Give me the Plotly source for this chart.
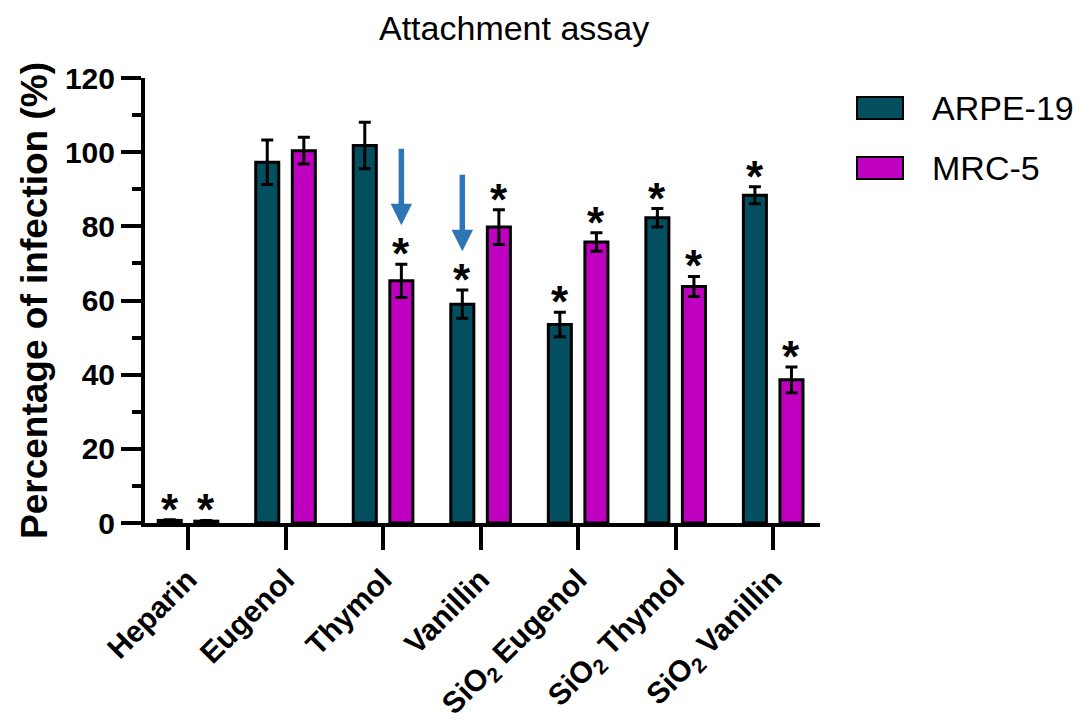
import plotly.graph_objects as go

# ---------------- data ----------------
categories = ["Heparin", "Eugenol", "Thymol", "Vanillin",
              "SiO<sub>2</sub> Eugenol", "SiO<sub>2</sub> Thymol", "SiO<sub>2</sub> Vanillin"]
series_names = ["ARPE-19", "MRC-5"]
arpe_values = [0.7, 97.3, 101.8, 59.0, 53.5, 82.3, 88.4]
arpe_errors = [0.2, 6.0, 6.3, 3.8, 3.3, 2.5, 2.3]
mrc_values = [0.5, 100.4, 65.3, 79.8, 75.8, 63.8, 38.6]
mrc_errors = [0.2, 3.6, 4.5, 4.7, 2.5, 2.7, 3.5]
# significance asterisks (True = marked)
arpe_sig = [True, False, False, True, True, True, True]
mrc_sig = [True, False, True, True, True, True, True]
# blue arrows: (category index, series index)
arrow_marks = [(2, 1), (3, 0)]

y_ticks = [0, 20, 40, 60, 80, 100, 120]

# ---------------- style ----------------
col_arpe = "#034F60"
col_mrc = "#C000C0"
arrow_col = "#2E75B6"
FONT = "Liberation Sans, Arial, Helvetica, sans-serif"

# the page body adds an 8px offset; size the figure so it fits the window
OFF = 8
W, H = 1086 - OFF, 724 - OFF
# plot area in window pixels, converted to figure pixels
L, R, T, B = 145 - OFF, 820 - OFF, 78 - OFF, 523 - OFF

BARGAP = 0.25
BARGROUPGAP = 0.37
slot = (1 - BARGAP) / 2
offsets = [-slot / 2, slot / 2]

x_idx = list(range(len(categories)))

fig = go.Figure()
for name, vals, errs, col in [(series_names[0], arpe_values, arpe_errors, col_arpe),
                              (series_names[1], mrc_values, mrc_errors, col_mrc)]:
    fig.add_trace(go.Bar(
        x=x_idx, y=vals, name=name,
        marker=dict(color=col, line=dict(color="black", width=3)),
        error_y=dict(type="data", array=errs, visible=True,
                     color="black", thickness=3, width=6),
        showlegend=False,
    ))

annotations = []
# asterisks
for s, (vals, errs, sig) in enumerate([(arpe_values, arpe_errors, arpe_sig),
                                       (mrc_values, mrc_errors, mrc_sig)]):
    for i, (v, e, g) in enumerate(zip(vals, errs, sig)):
        if g:
            annotations.append(dict(
                x=i + offsets[s], y=v + e, xref="x", yref="y",
                text="<b>*</b>", showarrow=False, yanchor="bottom", xanchor="center",
                yshift=-16, font=dict(family=FONT, size=44, color="black")))

# arrows
all_vals = [arpe_values, mrc_values]
all_errs = [arpe_errors, mrc_errors]
for (ci, si) in arrow_marks:
    tip = all_vals[si][ci] + all_errs[si][ci] + 10.5
    annotations.append(dict(
        x=ci + offsets[si], y=tip, xref="x", yref="y",
        ax=ci + offsets[si], ay=tip + 21, axref="x", ayref="y",
        text="", showarrow=True, arrowhead=2, arrowsize=0.78,
        arrowwidth=5.5, arrowcolor=arrow_col, standoff=0))

# manual legend (window pixel positions)
def px2paper_x(px):
    return (px - OFF - L) / (R - L)

def px2paper_y(py):
    return (B - (py - OFF)) / (B - T)

shapes = []
legend_rows = [(series_names[0], col_arpe, 97, 119),
               (series_names[1], col_mrc, 157, 179)]
for name, col, y0, y1 in legend_rows:
    shapes.append(dict(type="rect", xref="paper", yref="paper",
                       x0=px2paper_x(857), x1=px2paper_x(903),
                       y0=px2paper_y(y1), y1=px2paper_y(y0),
                       fillcolor=col, line=dict(color="black", width=2)))
    annotations.append(dict(
        x=px2paper_x(930), y=px2paper_y((y0 + y1) / 2), xref="paper", yref="paper",
        text=name, showarrow=False, xanchor="left", yanchor="middle",
        font=dict(family=FONT, size=34, color="black")))

# title
annotations.append(dict(
    x=px2paper_x(514), y=px2paper_y(28), xref="paper", yref="paper",
    text="Attachment assay", showarrow=False, xanchor="center", yanchor="middle",
    font=dict(family=FONT, size=34, color="black")))

fig.update_layout(
    width=W, height=H,
    margin=dict(l=L, r=W - R, t=T, b=H - B, pad=0),
    paper_bgcolor="white", plot_bgcolor="white",
    barmode="group", bargap=BARGAP, bargroupgap=BARGROUPGAP,
    font=dict(family=FONT, color="black"),
    showlegend=False,
    annotations=annotations,
    shapes=shapes,
)

fig.update_xaxes(
    range=[-0.441, 6.48], tickmode="array", tickvals=x_idx, ticktext=categories,
    tickangle=-45, showline=True, linecolor="black", linewidth=4,
    ticks="outside", ticklen=23, tickwidth=4, tickcolor="black",
    tickfont=dict(family=FONT, size=30, color="black", weight="bold"),
    showgrid=False, zeroline=False, automargin=False,
)
fig.update_yaxes(
    range=[0, 120], tickmode="array", tickvals=y_ticks,
    showline=True, linecolor="black", linewidth=4,
    ticks="outside", ticklen=20, tickwidth=3.5, tickcolor="black",
    minor=dict(dtick=10, tick0=0, ticks="outside", ticklen=9, tickwidth=3.5, tickcolor="black"),
    tickfont=dict(family=FONT, size=30, color="black", weight="bold"),
    title=dict(text="Percentage of infection (%)", standoff=7,
               font=dict(family=FONT, size=37, color="black", weight="bold")),
    showgrid=False, zeroline=False, automargin=False,
)

fig.write_html("out.html")
